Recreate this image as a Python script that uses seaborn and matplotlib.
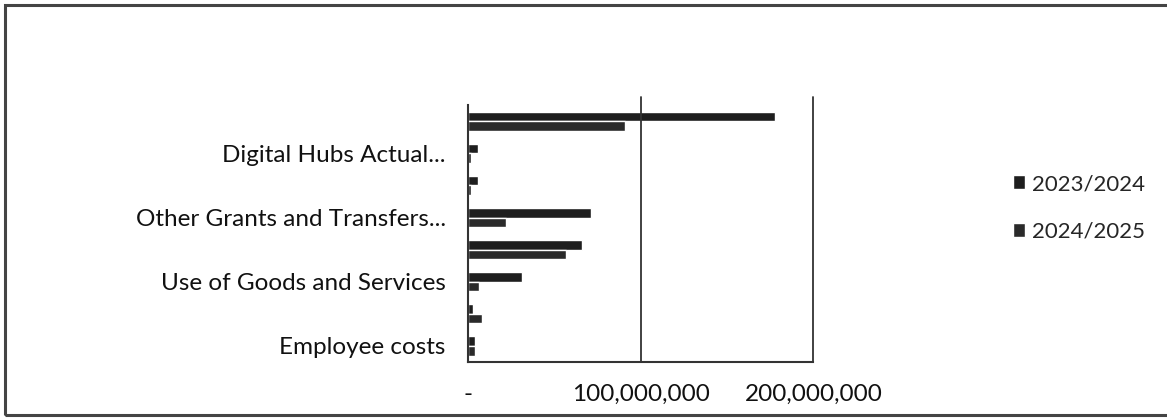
import matplotlib
matplotlib.use("Agg")
import matplotlib.pyplot as plt
import matplotlib.ticker as mticker
from matplotlib.patches import Rectangle
import seaborn as sns
import pandas as pd

# categories listed top to bottom (only every other one is labelled in the chart)
categories = [
    "Capital Transfers to Govt. Agencies",
    "Digital Hubs Actual Expenditure",
    "Acquisition of Non-Financial Assets",
    "Other Grants and Transfers Expenditure",
    "Current Transfers to Govt. Agencies",
    "Use of Goods and Services",
    "Social Benefits",
    "Employee costs",
]
shown_labels = ["", "Digital Hubs Actual...", "", "Other Grants and Transfers...",
                "", "Use of Goods and Services", "", "Employee costs"]
years = ["2023/2024", "2024/2025"]
values_2023 = [178e6, 6e6, 6e6, 71e6, 66e6, 31e6, 3e6, 4e6]
values_2024 = [91e6, 2e6, 2e6, 22e6, 57e6, 6.5e6, 8e6, 4e6]

df = pd.DataFrame({
    "category": categories * 2,
    "year": [years[0]] * len(categories) + [years[1]] * len(categories),
    "value": values_2023 + values_2024,
})

sns.set_style("white")
plt.rcParams["font.family"] = ["Lato", "DejaVu Sans"]
fs = 17.5

fig = plt.figure(figsize=(11.67, 4.19), dpi=100)
ax = fig.add_axes([0.401, 0.136, 0.296, 0.613])

sns.barplot(data=df, y="category", x="value", hue="year", order=categories,
            hue_order=years, palette=["#1e1e1e", "#2a2a2a"], width=0.6,
            saturation=1, ax=ax, orient="h")

ax.set_xlim(0, 200e6)
ax.set_ylim(len(categories) - 0.5, -0.5)
ax.set_xlabel("")
ax.set_ylabel("")

# category boundaries as ticks, labels in between
ax.set_yticks([i - 0.5 for i in range(len(categories) + 1)], minor=False)
ax.set_yticklabels([])
ax.set_yticks(range(len(categories)), minor=True)
ax.set_yticklabels(shown_labels, minor=True, fontsize=fs, color="#111111")
ax.tick_params(axis="y", which="major", direction="out", length=6, width=1.2, color="#222222")
ax.tick_params(axis="y", which="minor", length=0, pad=16)

ax.set_xticks([0, 100e6, 200e6])
ax.xaxis.set_major_formatter(mticker.FuncFormatter(lambda v, p: "-" if v == 0 else f"{v:,.0f}"))
ax.tick_params(axis="x", direction="out", length=6, width=1.2, color="#222222",
               labelsize=fs, labelcolor="#111111", pad=10)

for xv in [100e6, 200e6]:
    ax.axvline(xv, ymax=1.03, clip_on=False, color="#333333", lw=1.3)

for side in ["top", "right"]:
    ax.spines[side].set_visible(False)
for side in ["left", "bottom"]:
    ax.spines[side].set_color("#333333")
    ax.spines[side].set_linewidth(1.5)

ax.legend(loc="center left", bbox_to_anchor=(1.52, 0.60), frameon=False,
          fontsize=16, handlelength=0.55, handleheight=0.55, handletextpad=0.3,
          labelspacing=1.25)

fig.patches.append(Rectangle((5 / 1167, 4 / 419), 1.05, 410 / 419, transform=fig.transFigure,
                             fill=False, edgecolor="#444444", lw=2.2))

fig.savefig("out.png", dpi=100, facecolor="white")
